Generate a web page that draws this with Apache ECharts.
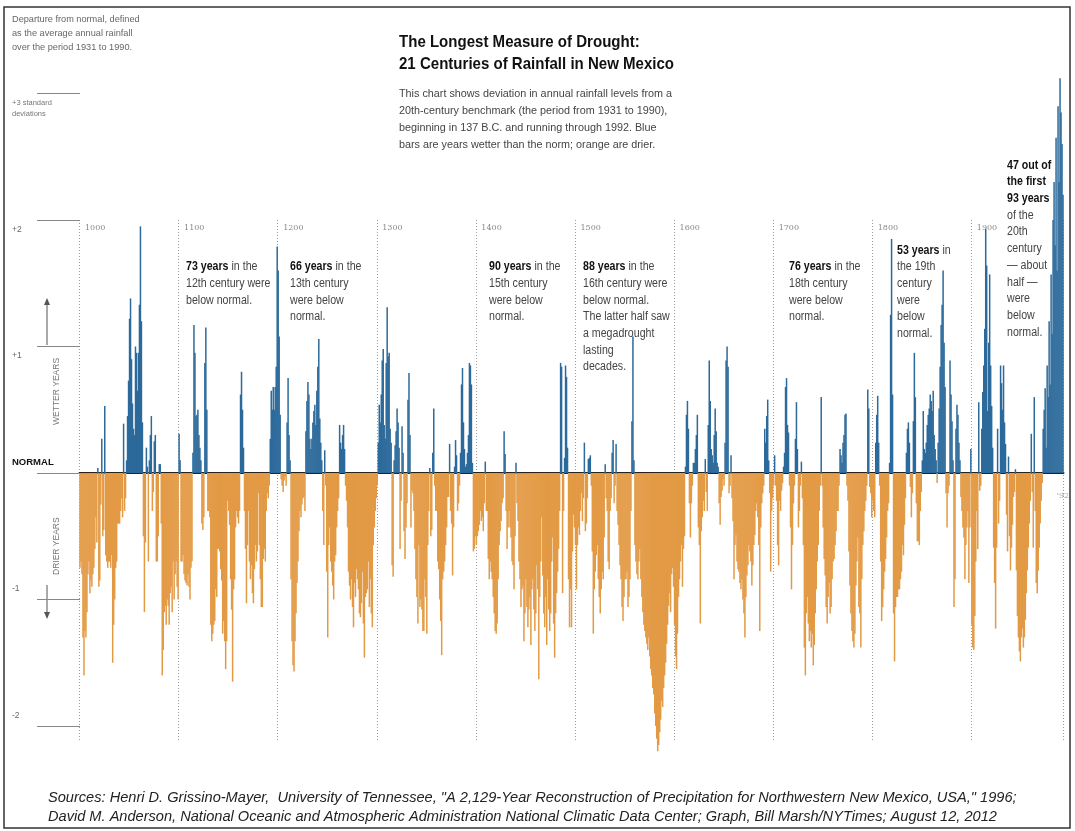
<!DOCTYPE html>
<html><head><meta charset="utf-8">
<script src="https://cdn.jsdelivr.net/npm/echarts@6/dist/echarts.min.js"></script>
<style>html,body{margin:0;padding:0;background:#fff}#c{width:1075px;height:831px}</style>
</head><body><div id="c"></div>
<script>
// Annual rainfall departure from the 1931-1990 normal, in standard deviations
const c1000 = [-0.75,-0.7,-0.8,-1.3,-1.6,-1.25,-1.3,-1.1,-0.8,-0.7,
-0.95,-0.85,-0.9,-0.8,-0.75,-0.6,-0.35,-0.55,0.04,-0.9,
-0.85,-0.25,0.27,-0.5,-0.45,0.53,-0.65,-0.7,-0.75,-0.7,
-0.7,-0.75,-0.65,-1.5,-1.2,-1.0,-0.75,-0.7,-0.4,-0.4,
-0.4,-0.3,-0.2,-0.35,0.39,-0.3,-0.2,0.1,0.45,0.73,
1.22,1.38,0.9,0.55,0.35,0.3,1.0,0.95,0.65,0.95,
1.33,1.95,1.2,0.4,-0.5,-1.1,-0.55,0.2,0.05,-0.7,
0.1,0.3,0.45,-0.3,-0.15,0.25,0.3,-0.7,-0.7,-0.5,
0.07,0.07,-0.4,-1.6,-1.4,-1.1,-1.05,-1.2,-1.0,-1.05,
-1.2,-0.95,-0.9,-1.1,-0.7,-1.0,-0.8,-0.7,-0.9,-1.0];
const c1100 = [0.31,0.1,-0.7,-0.7,-0.65,-0.8,-0.85,-0.87,-0.89,-0.8,
-0.9,-1.0,-0.75,-0.7,0.16,1.17,0.95,0.45,0.46,0.5,
0.3,0.2,0.1,-0.4,-0.45,-0.35,0.87,1.15,0.5,-0.3,
-0.3,-0.35,-1.2,-1.33,-1.27,-1.2,-1.17,-0.92,-0.98,-0.6,
-0.6,-0.62,-0.76,-0.85,-1.27,-1.17,-1.33,-1.55,-1.33,-0.22,
-0.3,-0.41,-0.84,-1.08,-1.65,-0.92,-0.84,-0.43,-0.3,-0.35,
-0.4,-0.3,0.62,0.8,0.5,0.2,-0.3,-0.6,-1.03,-0.57,
-0.3,-0.7,-0.84,-0.73,-0.95,-1.03,-0.76,-0.57,-0.7,-0.62,
-0.16,-0.57,-0.84,-1.06,-1.06,-0.68,-0.6,-0.7,-0.3,-0.16,
-0.2,-0.1,0.27,0.65,0.5,0.68,0.5,0.68,0.84,1.79];
const c1200 = [1.6,1.08,0.46,-0.05,-0.1,-0.15,-0.06,-0.03,-0.1,0.4,
0.75,0.3,0.1,-0.84,-1.33,-1.52,-1.57,-1.33,-1.11,-0.87,
-0.7,-0.46,-0.3,-0.35,-0.25,-0.2,-0.19,-0.3,0.33,0.57,
0.72,0.62,0.27,0.19,0.27,0.4,0.49,0.54,0.38,0.65,
0.84,1.06,0.43,0.24,0.1,-0.3,-0.57,0.18,-0.1,-0.78,
-1.3,-0.57,-0.43,-0.7,-0.78,-0.89,-1.0,-0.7,-0.65,-0.43,
-0.3,-0.2,0.38,0.24,0.19,0.3,0.38,0.19,-0.1,-0.22,
-0.43,-0.78,-0.89,-1.0,-0.84,-1.06,-1.22,-0.87,-0.98,-0.76,
-0.84,-0.92,-1.11,-1.14,-1.03,-0.78,-1.19,-1.46,-0.98,-0.95,
-0.92,-0.7,-1.06,-0.84,-1.11,-1.22,-0.57,-0.43,-0.3,-0.2];
const c1300 = [-0.1,0.24,0.54,0.4,0.62,0.89,0.98,0.38,0.27,0.87,
1.31,0.92,0.95,0.35,0.24,-0.73,-0.82,0.1,0.22,0.33,
0.51,0.4,0.2,-0.6,-0.22,0.37,0.16,-0.46,-0.68,-0.43,
-0.24,0.58,0.79,0.3,-0.43,-0.14,-0.16,-0.3,-0.6,-0.84,
-0.98,-1.19,-0.57,-1.06,-1.0,-1.08,-1.25,-1.25,-0.84,-0.98,
-1.27,-0.57,-0.3,0.04,-0.5,-0.45,0.16,0.51,-0.1,-0.3,
-0.3,-0.7,-0.76,-1.0,-1.17,-1.44,-0.84,-0.78,-0.7,-0.57,
-0.43,-0.19,-0.19,0.23,-0.3,-0.4,-0.81,-0.43,0.05,0.26,
0.14,-0.3,-0.24,-0.1,0.16,0.7,0.83,0.4,0.19,0.05,
0.07,0.16,0.3,0.87,0.85,0.7,0.08,-0.62,-0.6,-0.5];
const c1400 = [-0.57,-0.5,-0.46,-0.41,-0.3,-0.38,-0.35,-0.46,-0.24,0.09,
-0.3,-0.3,-0.68,-0.84,-0.7,-0.78,-0.84,-0.98,-1.11,-1.25,
-1.27,-1.19,-0.84,-0.57,-0.46,-0.38,-0.24,-0.2,0.33,0.15,
-0.3,-0.6,-0.43,-0.3,-0.43,-0.51,-0.7,-0.73,-0.92,-0.5,
0.08,-0.24,-0.38,-0.7,-0.84,-1.06,-0.92,-0.89,-1.33,-1.11,
-0.84,-1.06,-1.22,-1.08,-0.98,-1.36,-0.92,-0.84,-1.08,-1.25,
-1.11,-0.73,-0.92,-1.63,-0.98,-0.7,-0.35,-0.81,-1.11,-1.22,
-0.98,-1.36,-0.84,-1.08,-1.25,-1.11,-0.7,-0.51,-1.19,-1.46,
-1.11,-0.95,-0.78,-0.6,-0.3,0.87,0.84,-0.95,-0.3,0.12,
0.85,0.76,0.2,-0.84,-1.22,-0.92,-1.22,-0.62,-0.33,-0.43];
const c1500 = [-0.57,-0.92,-0.57,-0.43,-0.49,-0.3,-0.16,-0.38,-0.2,0.24,
-0.46,-0.4,-0.2,0.11,0.12,0.14,-0.1,-0.62,-1.27,-0.92,
-0.78,-0.65,-0.57,-0.84,-0.98,-1.11,-0.92,-0.78,-0.84,-0.51,
0.07,-0.2,-0.3,-0.7,-0.76,-0.3,-0.2,0.16,0.26,-0.24,
-0.1,0.23,-0.3,-0.41,-0.57,-0.73,-0.84,-1.06,-1.17,-0.98,
-0.84,-0.84,-0.78,-1.06,-0.98,-0.84,-0.3,0.41,1.08,0.1,
-0.57,-0.7,-0.8,-0.84,-0.7,-0.6,-0.84,-0.98,-1.1,-1.2,
-1.25,-1.3,-1.35,-1.4,-1.3,-1.45,-1.55,-1.6,-1.7,-1.75,
-1.9,-2.0,-2.1,-2.2,-2.15,-2.05,-1.95,-1.8,-1.85,-1.7,
-1.6,-1.5,-1.35,-1.2,-1.05,-0.95,-1.1,-0.8,-0.75,-0.9];
const c1600 = [-1.2,-1.45,-1.55,-1.27,-0.98,-0.84,-0.7,-0.57,-0.9,-0.6,
-0.5,0.05,0.46,0.57,0.35,-0.24,-0.51,-0.24,-0.1,0.08,
0.08,0.19,0.3,0.46,-0.43,-0.57,-1.19,-0.46,-0.35,-0.22,
-0.3,0.11,-0.15,-0.3,0.38,0.89,0.57,0.19,0.14,0.08,
0.3,0.51,0.33,0.08,0.05,-0.24,-0.41,-0.19,-0.14,-0.05,
-0.1,0.24,0.89,1.0,0.84,-0.16,-0.1,0.14,-0.2,-0.38,
-0.84,-0.57,-0.49,-0.7,-0.76,-0.78,-0.87,-0.92,-0.84,-1.0,
-1.11,-1.3,-0.98,-0.81,-0.73,-0.57,-0.62,-0.7,-0.89,-0.73,
-0.57,-0.49,-0.3,-0.24,-0.35,-0.57,-1.25,-0.43,-0.24,-0.16,
-0.1,0.35,0.24,0.45,0.58,0.1,-0.16,-0.78,-0.3,-0.2];
const c1700 = [-0.1,0.14,-0.1,-0.22,-0.57,-0.73,-0.22,-0.3,-0.14,-0.08,
0.05,0.16,0.68,0.75,0.38,0.32,-0.1,-0.43,-0.92,-0.57,
-0.24,-0.1,0.27,0.56,0.19,-0.43,-0.3,-0.1,0.09,-0.2,
-0.57,-1.38,-1.6,-1.11,-0.98,-1.19,-1.33,-1.25,-1.38,-1.27,
-1.52,-1.36,-1.11,-0.92,-0.7,-0.57,-0.3,-0.1,0.6,-0.1,
-0.43,-0.68,-0.81,-1.06,-1.19,-0.98,-0.87,-1.11,-1.06,-0.84,
-0.7,-0.68,-0.57,-0.46,-0.3,-0.3,-0.1,0.19,0.14,0.08,
0.24,0.3,0.46,0.47,-0.1,-0.22,-0.62,-0.89,-1.11,-1.25,
-1.33,-1.38,-1.27,-0.89,-0.7,-0.51,-1.06,-1.11,-1.38,-0.84,
-0.57,-0.46,-0.3,-0.22,-0.1,0.66,0.51,-0.11,-0.16,-0.35];
const c1800 = [-0.22,-0.3,-0.35,0.24,0.46,0.61,0.24,-0.1,-0.7,-1.17,
-1.06,-0.92,-0.78,-0.68,-0.51,-0.3,-0.24,0.08,1.25,1.85,
0.62,-1.11,-1.49,-1.06,-0.98,-0.98,-0.92,-0.92,-0.84,-0.78,
-0.57,-0.65,-0.41,-0.2,0.16,0.35,0.4,0.24,-0.11,-0.35,
-0.16,0.41,0.95,0.6,-0.24,-0.54,-0.54,-0.57,-0.3,-0.15,
0.1,0.49,0.19,0.16,0.24,0.38,0.46,0.51,0.62,0.57,
0.49,0.65,0.3,0.19,0.1,-0.08,0.24,0.51,0.84,1.17,
1.33,1.6,1.03,0.68,-0.16,-0.43,-0.16,-0.1,0.89,0.62,
0.41,0.1,-1.06,-0.84,0.35,0.54,0.46,0.24,0.1,-0.19,
-0.3,-0.43,-0.51,-0.84,-0.57,-0.43,-0.3,-0.87,-0.43,0.19];
const c1900 = [-1.2,-1.38,-1.4,-1.13,-0.7,-0.3,-0.6,0.56,-0.14,-0.1,
0.35,0.64,0.85,1.14,1.93,1.64,0.49,1.03,1.57,0.85,
0.53,0.2,-0.59,-0.87,-1.23,-0.59,0.35,-0.4,-0.22,0.85,
0.71,0.5,0.85,0.4,0.23,-0.33,-0.62,0.13,-0.5,-0.77,
-0.59,-0.41,-0.19,-0.15,0.03,-0.77,-1.13,-1.3,-1.41,-1.49,
-1.3,-1.23,-1.38,-1.3,-1.16,-0.95,-0.77,-0.59,-0.4,-0.22,
0.31,-0.15,-0.59,0.6,-0.3,-0.87,-0.95,-0.77,-0.59,-0.4,
-0.22,-0.08,0.35,0.5,0.67,0.2,0.85,0.6,1.2,0.7,
1.57,1.1,2.0,2.3,1.8,2.65,1.6,2.9,2.3,3.12,
2.85,2.6,2.2];

const firstYear = 1000;
const sdTicks = [-2, -1, 0, 1, 2, 3];
const sdTickLabels = ['-2', '-1', 'NORMAL', '+1', '+2', '+3 standard\ndeviations'];
const lastYearLabel = "'92";

const rainfall = [].concat(c1000, c1100, c1200, c1300, c1400, c1500, c1600, c1700, c1800, c1900);
const years = rainfall.map((_, i) => String(firstYear + i));

const BLUE = '#2c6a9b', ORANGE = '#e39a45';
const NARROW = "'Liberation Sans','Arial',sans-serif";
const SANS = "'Liberation Sans',Arial,sans-serif";

function sdLabel(v) {
  const i = sdTicks.indexOf(v);
  return i < 0 ? '' : sdTickLabels[i];
}

const chart = echarts.init(document.getElementById('c'));

const note = (text, left, top) => ({
  type: 'text', left: left, top: top, scaleX: 0.885,
  style: {
    text: text, font: '12px ' + NARROW, fill: '#444', lineHeight: 16.7,
    rich: { b: { font: 'bold 12px ' + NARROW, fill: '#111', lineHeight: 16.7 } }
  }
});

const option = {
  animation: false,
  backgroundColor: '#fff',
  grid: [
    { left: 79.5, top: 220, width: 984, height: 521.8 },
    { left: 80, top: 93.5, width: 100, height: 632.5 }
  ],
  xAxis: [
    { type: 'category', gridIndex: 0, data: years, position: 'bottom',
      axisLine: { show: true, onZero: true, lineStyle: { color: '#2a2118', width: 2 } },
      axisTick: { show: false }, axisLabel: { show: false },
      splitLine: { show: true, interval: (i, v) => (+v) % 100 === 0,
                   lineStyle: { color: '#9a9a9a', width: 1, type: [1, 2] } } },
    { type: 'category', gridIndex: 0, data: years, position: 'top',
      axisLine: { show: false, onZero: false }, axisTick: { show: false }, splitLine: { show: false },
      axisLabel: { show: true, inside: true, margin: 4, align: 'left', padding: [0, 0, 0, 5],
                   interval: (i, v) => (+v) % 100 === 0,
                   color: '#888', fontSize: 8, fontFamily: "'DejaVu Serif',serif" } },
    { type: 'value', gridIndex: 1, show: false, min: 0, max: 1 }
  ],
  yAxis: [
    { type: 'value', gridIndex: 0, min: -2.125, max: 2, show: false },
    { type: 'value', gridIndex: 1, min: -2, max: 3, interval: 1, position: 'left', offset: 25,
      axisLine: { show: false }, splitLine: { show: false },
      axisTick: { show: true, length: 43, lineStyle: { color: '#888', width: 1 } },
      axisLabel: { margin: 43, align: 'left', verticalAlign: 'top', padding: [4, 0, 0, 0],
        formatter: v => v > 0 ? (v === 3 ? '{s|+3 standard}\n{s|deviations}' : '{d|' + sdLabel(v) + '}') : '',
        rich: { s: { fontSize: 7.5, lineHeight: 11, color: '#777', fontFamily: SANS },
                d: { fontSize: 8.5, lineHeight: 11, color: '#666', fontFamily: SANS } } } },
    { type: 'value', gridIndex: 1, min: -2, max: 3, interval: 1, position: 'left', offset: 25,
      axisLine: { show: false }, splitLine: { show: false }, axisTick: { show: false },
      axisLabel: { margin: 43, align: 'left', verticalAlign: 'bottom', padding: [0, 0, 5, 0],
        formatter: v => v === 0 ? '{n|NORMAL}' : (v < 0 ? '{d|' + sdLabel(v) + '}' : ''),
        rich: { n: { fontSize: 9.5, fontWeight: 'bold', color: '#111', fontFamily: SANS, lineHeight: 12 },
                d: { fontSize: 8.5, lineHeight: 11, color: '#666', fontFamily: SANS } } } }
  ],
  series: [
    { type: 'bar', xAxisIndex: 0, yAxisIndex: 0, data: rainfall, barWidth: 1.5, clip: false,
      silent: true, itemStyle: { color: p => p.value >= 0 ? BLUE : ORANGE } },
    { type: 'scatter', xAxisIndex: 0, yAxisIndex: 0, data: [[years[years.length - 1], -0.18]],
      symbolSize: 0, silent: true,
      label: { show: true, position: 'inside', formatter: lastYearLabel, color: '#888', fontSize: 8,
               fontFamily: "'DejaVu Serif',serif" } },
    { type: 'line', xAxisIndex: 2, yAxisIndex: 1, data: [] },
    { type: 'line', xAxisIndex: 2, yAxisIndex: 2, data: [] }
  ],
  graphic: [
    { type: 'rect', shape: { x: 4, y: 7, width: 1066, height: 821 }, silent: true,
      style: { fill: 'none', stroke: '#333', lineWidth: 1.5 } },
    { type: 'text', left: 12, top: 12, style: { text: 'Departure from normal, defined\nas the average annual rainfall\nover the period 1931 to 1990.',
      font: '9.2px ' + NARROW, fill: '#666', lineHeight: 14.3 } },
    { type: 'text', left: 399, top: 31, scaleX: 0.885, style: { text: 'The Longest Measure of Drought:\n21 Centuries of Rainfall in New Mexico',
      font: 'bold 17px ' + NARROW, fill: '#111', lineHeight: 22 } },
    { type: 'text', left: 399, top: 85.5, style: { text: 'This chart shows deviation in annual rainfall levels from a\n20th-century benchmark (the period from 1931 to 1990),\nbeginning in 137 B.C. and running through 1992. Blue\nbars are years wetter than the norm; orange are drier.',
      font: '10.8px ' + NARROW, fill: '#444', lineHeight: 17 } },
    note('{b|73 years} in the\n12th century were\nbelow normal.', 186, 258.5),
    note('{b|66 years} in the\n13th century\nwere below\nnormal.', 290, 258.5),
    note('{b|90 years} in the\n15th century\nwere below\nnormal.', 489, 258.5),
    note('{b|88 years} in the\n16th century were\nbelow normal.\nThe latter half saw\na megadrought\nlasting\ndecades.', 583, 258.5),
    note('{b|76 years} in the\n18th century\nwere below\nnormal.', 789, 258.5),
    note('{b|53 years} in\nthe 19th\ncentury\nwere\nbelow\nnormal.', 897, 242),
    note('{b|47 out of}\n{b|the first}\n{b|93 years}\nof the\n20th\ncentury\n— about\nhalf —\nwere\nbelow\nnormal.', 1007, 157),
    { type: 'text', x: 52, y: 425, rotation: Math.PI / 2,
      style: { text: 'WETTER YEARS', font: '8.5px ' + SANS, fill: '#777' } },
    { type: 'line', shape: { x1: 47, y1: 345, x2: 47, y2: 302 }, style: { stroke: '#555', lineWidth: 1 } },
    { type: 'polygon', shape: { points: [[44, 305], [50, 305], [47, 298]] }, style: { fill: '#555' } },
    { type: 'text', x: 52, y: 575, rotation: Math.PI / 2,
      style: { text: 'DRIER YEARS', font: '8.5px ' + SANS, fill: '#777' } },
    { type: 'line', shape: { x1: 47, y1: 585, x2: 47, y2: 615 }, style: { stroke: '#555', lineWidth: 1 } },
    { type: 'polygon', shape: { points: [[44, 612], [50, 612], [47, 619]] }, style: { fill: '#555' } },
    { type: 'text', left: 48, top: 788, style: { text: 'Sources: Henri D. Grissino-Mayer,  University of Tennessee, "A 2,129-Year Reconstruction of Precipitation for Northwestern New Mexico, USA," 1996;\nDavid M. Anderson, National Oceanic and Atmospheric Administration National Climatic Data Center; Graph, Bill Marsh/NYTimes; August 12, 2012',
      font: 'italic 14.6px ' + SANS, fill: '#222', lineHeight: 19 } }
  ]
};
chart.setOption(option);
</script>
</body></html>
